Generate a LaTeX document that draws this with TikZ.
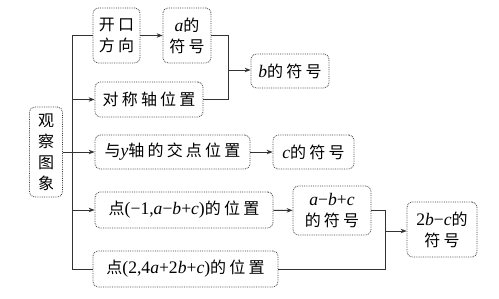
\documentclass[tikz,border=0pt]{standalone}
\usepackage{fontspec}
\setmainfont{Liberation Serif}
\newfontfamily\cjk[LetterSpace=20]{Noto Sans CJK SC}
\newfontfamily\latinfont[Scale=1.1]{Liberation Serif}
\usepackage{tikz}
\usetikzlibrary{arrows.meta, calc, positioning}
\newcommand{\lat}[1]{{\latinfont #1}}
\newcommand{\vi}[1]{{\latinfont\itshape #1}}

\begin{document}
\begin{tikzpicture}[x=1pt, y=-1pt, >={Stealth[length=6pt,width=4.5pt]},
    dotbox/.style={draw=black!75, densely dotted, line width=0.8pt, rounded corners=5pt, align=center, inner sep=1pt, font=\cjk\fontsize{16}{21}\selectfont},
    link/.style={draw=black!80, line width=0.9pt}]
    \useasboundingbox (0,0) rectangle (499,299);

    % Root
    \node[dotbox, minimum width=33pt, minimum height=90pt] (root) at (46,152) {观\\察\\图\\象};

    % First column
    \node[dotbox, minimum width=47pt, minimum height=55pt] (open) at (116.5,35.5) {开口\\方向};
    \node[dotbox, minimum width=108pt, minimum height=35pt] (axis) at (149,99.5) {对称轴位置};
    \node[dotbox, minimum width=155pt, minimum height=34pt] (yint) at (172.5,152) {与\vi{y}轴的交点位置};
    \node[dotbox, minimum width=178pt, minimum height=36pt] (pt1) at (184,210) {点\lat{(−1,}\vi{a}\lat{−}\vi{b}\lat{+}\vi{c}\lat{)}的位置};
    \node[dotbox, minimum width=185pt, minimum height=36pt] (pt2) at (185.5,269) {点\lat{(2,4}\vi{a}\lat{+2}\vi{b}\lat{+}\vi{c}\lat{)}的位置};

    % Signs
    \node[dotbox, minimum width=48pt, minimum height=55pt] (asign) at (187,35.5) {\vi{a}的\\符号};
    \node[dotbox, minimum width=78pt, minimum height=34pt] (bsign) at (290,71) {\vi{b}的符号};
    \node[dotbox, minimum width=81pt, minimum height=34pt] (csign) at (313.5,152) {\vi{c}的符号};
    \node[dotbox, minimum width=78pt, minimum height=49pt] (sum1) at (332,210.5) {\vi{a}\lat{−}\vi{b}\lat{+}\vi{c}\\的符号};
    \node[dotbox, minimum width=70pt, minimum height=55pt] (res) at (442,229.5) {\lat{2}\vi{b}\lat{−}\vi{c}的\\符号};

    % Junctions
    \coordinate (trunk) at (72,0);
    \coordinate (j1) at (228,0);
    \coordinate (j2) at (385,0);

    % Trunk and branches
    \draw[link] (open.west) -- (open.west -| trunk) -- (pt2.west -| trunk) -- (pt2.west);
    \draw[link, ->] (axis.west -| trunk) -- (axis);
    \draw[link, ->] (root) -- (yint);
    \draw[link, ->] (pt1.west -| trunk) -- (pt1);

    % Arrows
    \draw[link, ->] (open) -- (asign);
    \draw[link, ->] (yint) -- (csign);
    \draw[link, ->] (pt1) -- (sum1);

    % Merges
    \draw[link] (asign.east) -- (asign.east -| j1) -- (axis.east -| j1) -- (axis.east);
    \draw[link, ->] ($(bsign.west -| j1)+(0,-1)$) -- ($(bsign.west)+(0,-1)$);
    \draw[link] (sum1.east) -- (sum1.east -| j2) -- (pt2.east -| j2) -- (pt2.east);
    \draw[link, ->] ($(res.west -| j2)+(0,1.5)$) -- ($(res.west)+(0,1.5)$);
\end{tikzpicture}
\end{document}
